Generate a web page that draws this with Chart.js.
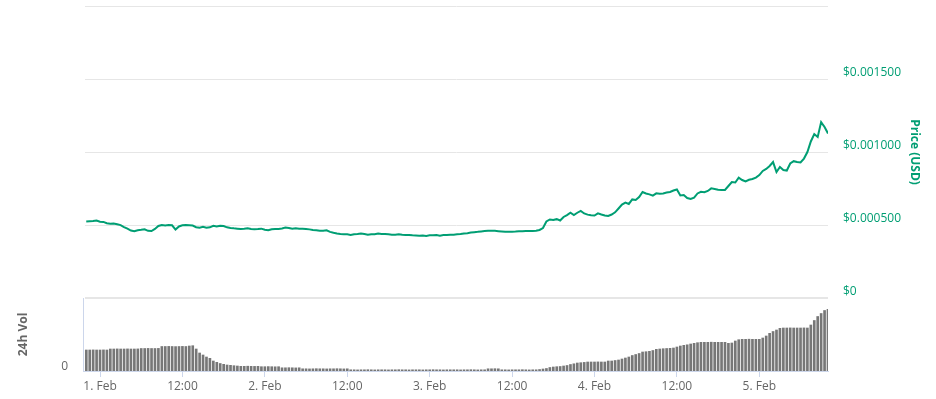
<!DOCTYPE html>
<html>
<head>
<meta charset="utf-8">
<script src="https://cdn.jsdelivr.net/npm/chart.js@4.4.1/dist/chart.umd.min.js"></script>
<style>
    html, body { margin: 0; padding: 0; background: #fff; }
    #wrap { position: relative; width: 936px; height: 399px; overflow: hidden; }
    #priceChart { position: absolute; left: 0; top: 0; }
    #volChart { position: absolute; left: 0; top: 290px; }
</style>
</head>
<body>
<div id="wrap">
    <canvas id="priceChart" width="936" height="310"></canvas>
    <canvas id="volChart" width="936" height="109"></canvas>
</div>
<script>
// ── Data ────────────────────────────────────
// hours counted from 1 Feb 00:00, one point every 30 minutes
const PRICE_START_HOUR = -2;
const PRICE_STEP_HOURS = 0.5;
const PRICE = [
    0.000524, 0.000526, 0.000527, 0.000531, 0.000522, 0.000521, 0.000512, 0.000508, 0.000510, 0.000505,
    0.000499, 0.000486, 0.000475, 0.000462, 0.000458, 0.000464, 0.000467, 0.000471, 0.000460, 0.000459,
    0.000473, 0.000493, 0.000500, 0.000497, 0.000500, 0.000498, 0.000469, 0.000490, 0.000498, 0.000500,
    0.000498, 0.000496, 0.000485, 0.000481, 0.000488, 0.000481, 0.000484, 0.000495, 0.000490, 0.000495,
    0.000493, 0.000484, 0.000480, 0.000477, 0.000475, 0.000473, 0.000474, 0.000477, 0.000472, 0.000471,
    0.000472, 0.000475, 0.000467, 0.000464, 0.000471, 0.000473, 0.000473, 0.000476, 0.000482, 0.000479,
    0.000474, 0.000477, 0.000474, 0.000475, 0.000473, 0.000470, 0.000466, 0.000464, 0.000461, 0.000461,
    0.000464, 0.000453, 0.000447, 0.000442, 0.000438, 0.000437, 0.000436, 0.000432, 0.000436, 0.000438,
    0.000442, 0.000438, 0.000433, 0.000437, 0.000436, 0.000441, 0.000438, 0.000438, 0.000437, 0.000434,
    0.000434, 0.000437, 0.000433, 0.000431, 0.000431, 0.000429, 0.000428, 0.000427, 0.000428, 0.000425,
    0.000429, 0.000429, 0.000431, 0.000427, 0.000431, 0.000431, 0.000433, 0.000434, 0.000436, 0.000438,
    0.000442, 0.000444, 0.000448, 0.000451, 0.000453, 0.000456, 0.000459, 0.000461, 0.000461, 0.000460,
    0.000458, 0.000456, 0.000454, 0.000454, 0.000454, 0.000455, 0.000457, 0.000458, 0.000459, 0.000459,
    0.000459, 0.000460, 0.000466, 0.000479, 0.000524, 0.000538, 0.000534, 0.000540, 0.000531, 0.000555,
    0.000568, 0.000584, 0.000568, 0.000584, 0.000597, 0.000579, 0.000571, 0.000567, 0.000565, 0.000580,
    0.000572, 0.000565, 0.000562, 0.000572, 0.000587, 0.000613, 0.000640, 0.000654, 0.000644, 0.000675,
    0.000671, 0.000692, 0.000726, 0.000716, 0.000710, 0.000701, 0.000717, 0.000714, 0.000716, 0.000722,
    0.000726, 0.000736, 0.000743, 0.000702, 0.000705, 0.000685, 0.000678, 0.000688, 0.000716, 0.000727,
    0.000724, 0.000733, 0.000751, 0.000747, 0.000742, 0.000740, 0.000740, 0.000767, 0.000794, 0.000791,
    0.000824, 0.000808, 0.000798, 0.000810, 0.000815, 0.000825, 0.000842, 0.000870, 0.000884, 0.000904,
    0.000931, 0.000863, 0.000897, 0.000877, 0.000873, 0.000921, 0.000937, 0.000931, 0.000928, 0.000955,
    0.001000, 0.001072, 0.001123, 0.001103, 0.001205, 0.001171, 0.001127
];

const VOL_START_HOUR = -2;
const VOL_STEP_HOURS = 0.5;
const VOLUME = [
    210, 210, 211, 210, 210, 211, 210, 220, 220, 221, 220, 220, 221, 220, 220, 221,
    225, 225, 226, 225, 225, 226, 245, 245, 246, 245, 244, 245, 246, 245, 250, 253,
    220, 180, 160, 140, 127, 100, 87, 75, 67, 60, 57, 53, 50, 47, 47, 48,
    47, 46, 47, 43, 43, 44, 43, 42, 43, 32, 32, 33, 32, 31, 32, 22,
    22, 21, 22, 23, 22, 22, 21, 22, 22, 23, 22, 21, 22, 12, 12, 11,
    12, 12, 13, 12, 11, 12, 12, 12, 11, 12, 12, 13, 12, 12, 11, 12,
    12, 12, 11, 12, 12, 13, 12, 12, 11, 12, 12, 12, 12, 11, 12, 12,
    13, 12, 11, 12, 12, 22, 22, 23, 22, 12, 12, 11, 12, 12, 12, 13,
    12, 11, 12, 12, 15, 20, 25, 35, 40, 43, 45, 50, 55, 65, 72, 80,
    83, 86, 90, 90, 90, 91, 90, 90, 100, 100, 105, 110, 120, 130, 140, 155,
    165, 175, 190, 193, 197, 205, 217, 220, 223, 225, 227, 230, 240, 250, 257, 262,
    270, 277, 283, 287, 287, 287, 288, 287, 287, 287, 287, 277, 280, 300, 313, 317,
    317, 318, 317, 317, 317, 330, 350, 377, 395, 410, 427, 430, 430, 431, 430, 430,
    430, 431, 430, 460, 505, 545, 575, 605, 617
];
const VOL_MAX = 730;

const TICK_HOURS = [0, 12, 24, 36, 48, 60, 72, 84, 96];
const TICK_LABELS = ['1. Feb', '12:00', '2. Feb', '12:00', '3. Feb', '12:00', '4. Feb', '12:00', '5. Feb'];

const PRICE_TICKS = [0, 0.0005, 0.001, 0.0015, 0.002];
const PRICE_TICK_LABELS = ['$0', '$0.000500', '$0.001000', '$0.001500', ''];

// ── Styling ─────────────────────────────────
const GREEN = '#009e73';
const AXIS_BLUE = '#ccd6eb';
const TEXT_GREY = '#666666';
const FONT = { family: "'Open Sans', sans-serif", size: 12 };

Chart.defaults.font.family = FONT.family;
Chart.defaults.font.size = FONT.size;

// ── Price Chart ─────────────────────────────
new Chart(document.getElementById('priceChart'), {
    type: 'line',
    data: {
        datasets: [{
            data: PRICE.map((v, i) => ({ x: PRICE_START_HOUR + i * PRICE_STEP_HOURS, y: v })),
            borderColor: GREEN,
            borderWidth: 2,
            pointRadius: 0,
            tension: 0,
            fill: false
        }]
    },
    options: {
        responsive: false,
        animation: false,
        devicePixelRatio: 1,
        layout: { padding: { left: 85, top: 6, bottom: 12, right: 10 } },
        scales: {
            x: { type: 'linear', min: -2.18, max: 106, display: false },
            y: {
                position: 'right',
                min: 0,
                max: 0.002,
                afterBuildTicks: s => { s.ticks = PRICE_TICKS.map(v => ({ value: v })); },
                afterFit: s => { s.width = 98; s.paddingTop = 0; s.paddingBottom = 0; },
                grid: {
                    color: '#e6e6e6',
                    lineWidth: c => (c.tick && c.tick.value === 0 ? 2 : 1),
                    drawTicks: false
                },
                border: { display: false },
                ticks: {
                    padding: 15,
                    labelOffset: -6,
                    color: GREEN,
                    font: FONT,
                    callback: (v, i) => PRICE_TICK_LABELS[i]
                },
                title: {
                    display: true,
                    text: 'Price (USD)',
                    color: GREEN,
                    font: { family: FONT.family, size: 12, weight: 'bold' },
                    padding: { top: 4 }
                }
            }
        },
        plugins: {
            legend: { display: false },
            tooltip: { enabled: false }
        }
    }
});

// ── Volume Chart ────────────────────────────
new Chart(document.getElementById('volChart'), {
    type: 'bar',
    data: {
        datasets: [{
            data: VOLUME.map((v, i) => ({ x: VOL_START_HOUR + i * VOL_STEP_HOURS, y: v })),
            backgroundColor: '#777777',
            barThickness: 2,
            borderWidth: 0
        }]
    },
    options: {
        responsive: false,
        animation: false,
        devicePixelRatio: 1,
        layout: { padding: { left: 0, top: 8, bottom: 0, right: 108 } },
        scales: {
            x: {
                type: 'linear',
                min: -2.48,
                max: 106,
                offset: false,
                afterBuildTicks: s => { s.ticks = TICK_HOURS.map(v => ({ value: v })); },
                afterFit: s => { s.height = 28; s.paddingLeft = 0; s.paddingRight = 0; },
                grid: { offset: false, drawOnChartArea: false, drawTicks: true, tickLength: 6, color: AXIS_BLUE },
                border: { display: true, color: AXIS_BLUE },
                ticks: {
                    padding: 2,
                    maxRotation: 0,
                    autoSkip: false,
                    color: TEXT_GREY,
                    font: FONT,
                    callback: (v, i) => TICK_LABELS[i]
                }
            },
            y: {
                min: 0,
                max: VOL_MAX,
                afterBuildTicks: s => { s.ticks = [{ value: 0 }]; },
                afterFit: s => { s.width = 83; s.paddingTop = 0; s.paddingBottom = 0; },
                grid: { display: false, drawTicks: false },
                border: { display: true, color: AXIS_BLUE },
                ticks: { padding: 15, labelOffset: -4, color: TEXT_GREY, font: FONT },
                title: {
                    display: true,
                    text: '24h Vol',
                    color: TEXT_GREY,
                    font: { family: FONT.family, size: 12, weight: 'bold' },
                    padding: { top: 16 }
                }
            }
        },
        plugins: {
            legend: { display: false },
            tooltip: { enabled: false }
        }
    }
});
</script>
</body>
</html>
